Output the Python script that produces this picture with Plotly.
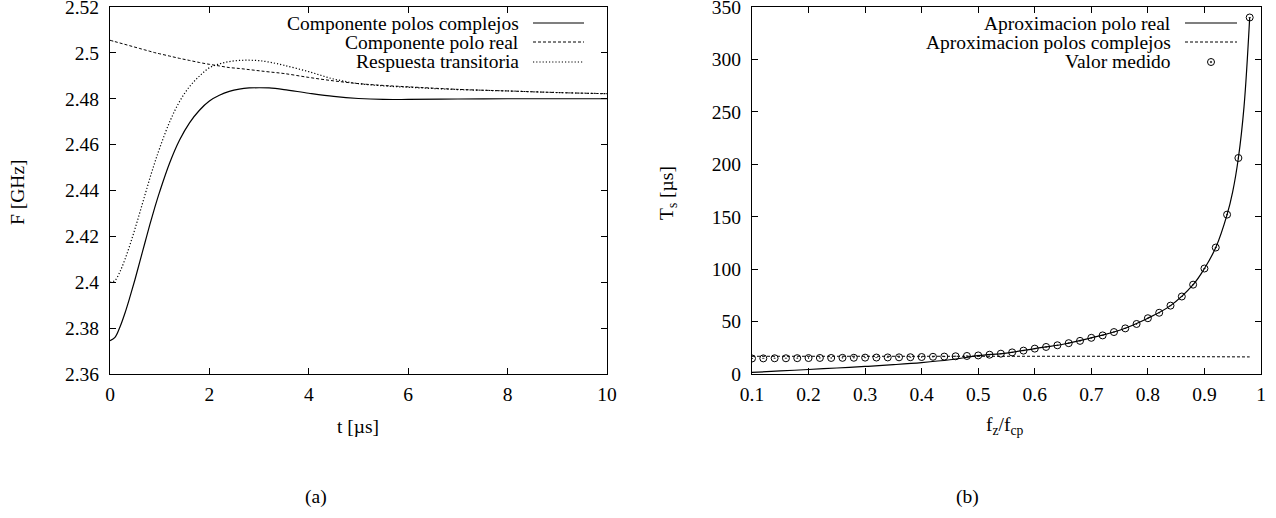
import plotly.graph_objects as go

# ---------------- data: panel (a) ----------------
t_us = [0, 0.1, 0.2, 0.3, 0.4, 0.5, 0.6, 0.7, 0.8, 0.9, 1.0, 1.2, 1.4, 1.6, 1.8, 2.0,
        2.2, 2.4, 2.6, 2.8, 3.0, 3.2, 3.5, 4.0, 4.5, 5.0, 5.5, 6.0, 7.0, 8.0, 9.0, 10.0]
f_complejos = [2.3745, 2.3760, 2.3805, 2.3865, 2.3935, 2.4010, 2.4090, 2.4170, 2.4250, 2.4325,
               2.4395, 2.4520, 2.4620, 2.4695, 2.4750, 2.4790, 2.4815, 2.4832, 2.4842, 2.4847,
               2.4848, 2.4847, 2.4840, 2.4824, 2.4810, 2.4801, 2.4797, 2.4797, 2.4799, 2.4800,
               2.4800, 2.4800]
f_real = [2.5055, 2.5049, 2.5043, 2.5037, 2.5031, 2.5025, 2.5019, 2.5013, 2.5007, 2.5001,
          2.4996, 2.4986, 2.4976, 2.4967, 2.4958, 2.4950, 2.4943, 2.4936, 2.4932, 2.4927,
          2.4922, 2.4917, 2.4910, 2.4893, 2.4878, 2.4866, 2.4858, 2.4852, 2.4841, 2.4834,
          2.4827, 2.4822]
f_transitoria = [2.4000, 2.4008, 2.4046, 2.4099, 2.4162, 2.4231, 2.4304, 2.4378, 2.4452, 2.4521,
                 2.4585, 2.4699, 2.4788, 2.4853, 2.4899, 2.4935, 2.4952, 2.4962, 2.4967, 2.4968,
                 2.4966, 2.4960, 2.4946, 2.4918, 2.4886, 2.4866, 2.4856, 2.4850, 2.4840, 2.4834,
                 2.4827, 2.4822]
ya_ticks = [2.36, 2.38, 2.40, 2.42, 2.44, 2.46, 2.48, 2.50, 2.52]
ya_ticktext = ["2.36", "2.38", "2.4", "2.42", "2.44", "2.46", "2.48", "2.5", "2.52"]
xa_ticks = [0, 2, 4, 6, 8, 10]

# ---------------- data: panel (b) ----------------
fz_real = [0.10, 0.15, 0.20, 0.25, 0.30, 0.35, 0.40, 0.45, 0.50, 0.55, 0.60, 0.65, 0.70,
           0.75, 0.80, 0.84, 0.88, 0.90, 0.92, 0.94, 0.95, 0.96, 0.97, 0.98]
ts_real = [1.5, 2.9, 4.3, 5.7, 7.2, 8.9, 10.9, 13.6, 17.5, 20.0, 24.2, 28.4, 34.5,
           41.7, 53.2, 65.2, 85.2, 100.6, 120.6, 152.0, 174.0, 206.0, 255.0, 340.0]
fz_cp = [0.10, 0.20, 0.30, 0.40, 0.50, 0.60, 0.70, 0.80, 0.90, 0.98]
ts_cp = [16.9, 17.0, 17.1, 17.2, 17.2, 17.1, 16.9, 16.7, 16.5, 16.3]
fz_meas = [0.10, 0.12, 0.14, 0.16, 0.18, 0.20, 0.22, 0.24, 0.26, 0.28, 0.30, 0.32, 0.34,
           0.36, 0.38, 0.40, 0.42, 0.44, 0.46, 0.48, 0.50, 0.52, 0.54, 0.56, 0.58, 0.60,
           0.62, 0.64, 0.66, 0.68, 0.70, 0.72, 0.74, 0.76, 0.78, 0.80, 0.82, 0.84, 0.86,
           0.88, 0.90, 0.92, 0.94, 0.96, 0.98]
ts_meas = [14.8, 14.9, 15.0, 15.0, 15.1, 15.2, 15.3, 15.3, 15.4, 15.5, 15.6, 15.7, 15.8,
           15.9, 16.0, 16.2, 16.4, 16.6, 16.9, 17.2, 17.7, 18.4, 19.4, 20.6, 22.3, 24.2,
           25.8, 27.4, 29.4, 31.6, 34.5, 36.8, 40.0, 43.5, 47.7, 53.2, 58.4, 65.2, 73.9,
           85.2, 100.6, 120.6, 152.0, 206.0, 340.0]
xb_ticks = [0.1, 0.2, 0.3, 0.4, 0.5, 0.6, 0.7, 0.8, 0.9, 1.0]
xb_ticktext = ["0.1", "0.2", "0.3", "0.4", "0.5", "0.6", "0.7", "0.8", "0.9", "1"]
yb_ticks = [0, 50, 100, 150, 200, 250, 300, 350]

legend_a = ["Componente polos complejos", "Componente polo real", "Respuesta transitoria"]
legend_b = ["Aproximacion polo real", "Aproximacion polos complejos", "Valor medido"]

# ---------------- style ----------------
W, H = 1276, 518
FONT = "Liberation Serif"
FS = 19.5
DASH = "3px,2px"
DOT = "1.2px,2px"


def px(x):
    return x / W


def py(y):
    return 1 - y / H


fig = go.Figure()

fig.add_trace(go.Scatter(x=t_us, y=f_complejos, mode="lines", name=legend_a[0],
                         line=dict(color="black", width=1.2, shape="spline"),
                         xaxis="x", yaxis="y"))
fig.add_trace(go.Scatter(x=t_us, y=f_real, mode="lines", name=legend_a[1],
                         line=dict(color="black", width=1, dash=DASH, shape="spline"),
                         xaxis="x", yaxis="y"))
fig.add_trace(go.Scatter(x=t_us, y=f_transitoria, mode="lines", name=legend_a[2],
                         line=dict(color="black", width=1.2, dash=DOT, shape="spline"),
                         xaxis="x", yaxis="y"))

fig.add_trace(go.Scatter(x=fz_real, y=ts_real, mode="lines", name=legend_b[0],
                         line=dict(color="black", width=1.2, shape="spline"),
                         xaxis="x2", yaxis="y2"))
fig.add_trace(go.Scatter(x=fz_cp, y=ts_cp, mode="lines", name=legend_b[1],
                         line=dict(color="black", width=1, dash=DASH),
                         xaxis="x2", yaxis="y2"))
fig.add_trace(go.Scatter(x=fz_meas, y=ts_meas, mode="markers", name=legend_b[2],
                         marker=dict(symbol="circle-open-dot", size=7, color="black",
                                     line=dict(width=1, color="black")),
                         xaxis="x2", yaxis="y2"))

axis_common = dict(showline=True, linecolor="black", linewidth=1, mirror="allticks",
                   ticks="inside", ticklen=6, tickwidth=1, tickcolor="black",
                   showgrid=False, zeroline=False, automargin=False,
                   ticklabeloverflow="allow",
                   tickfont=dict(family=FONT, size=FS, color="black"))

fig.update_layout(
    width=W, height=H,
    margin=dict(l=0, r=0, t=0, b=0),
    paper_bgcolor="white", plot_bgcolor="white",
    showlegend=False,
    font=dict(family=FONT, size=FS, color="black"),
    xaxis=dict(domain=[px(110), px(607)], range=[0, 10], tickvals=xa_ticks,
               anchor="y", ticklabelstandoff=3, **axis_common),
    yaxis=dict(domain=[py(374), py(7)], range=[2.36, 2.52], tickvals=ya_ticks,
               ticktext=ya_ticktext, anchor="x", ticklabelstandoff=6, **axis_common),
    xaxis2=dict(domain=[px(752), px(1261)], range=[0.1, 1.0], tickvals=xb_ticks,
                ticktext=xb_ticktext, anchor="y2", ticklabelstandoff=3, **axis_common),
    yaxis2=dict(domain=[py(374), py(7)], range=[0, 350], tickvals=yb_ticks,
                anchor="x2", ticklabelstandoff=6, **axis_common),
)

annotations = []
shapes = []


def text(x, y, s, anchor="center", angle=0):
    annotations.append(dict(x=px(x), y=py(y), xref="paper", yref="paper", text=s,
                            showarrow=False, xanchor=anchor, yanchor="middle",
                            textangle=angle,
                            font=dict(family=FONT, size=FS, color="black")))


# axis titles and captions
text(18, 192, "F [GHz]", angle=-90)
text(358, 426, "t [µs]")
text(668, 193, "T<sub>s</sub> [µs]", angle=-90)
text(1005, 426, "f<sub>z</sub>/f<sub>cp</sub>")
text(316, 497, "(a)")
text(967, 497, "(b)")

# legend (a): gnuplot style, text right-aligned, sample to the right
rows = [23, 42, 62]
styles_a = [dict(width=1.2), dict(width=1, dash=DASH), dict(width=1.2, dash=DOT)]
for name, yy, st in zip(legend_a, rows, styles_a):
    text(521, yy, name, anchor="right")
    shapes.append(dict(type="line", xref="paper", yref="paper", x0=px(533), x1=px(584),
                       y0=py(yy), y1=py(yy), line=dict(color="black", **st)))

# legend (b)
styles_b = [dict(width=1.2), dict(width=1, dash=DASH)]
for name, yy, st in zip(legend_b[:2], rows[:2], styles_b):
    text(1173, yy, name, anchor="right")
    shapes.append(dict(type="line", xref="paper", yref="paper", x0=px(1185), x1=px(1237),
                       y0=py(yy), y1=py(yy), line=dict(color="black", **st)))
text(1173, rows[2], legend_b[2], anchor="right")
shapes.append(dict(type="circle", xref="paper", yref="paper", xsizemode="pixel",
                   ysizemode="pixel", xanchor=px(1211), yanchor=py(rows[2]),
                   x0=-3.5, x1=3.5, y0=-3.5, y1=3.5, line=dict(color="black", width=1)))
shapes.append(dict(type="circle", xref="paper", yref="paper", xsizemode="pixel",
                   ysizemode="pixel", xanchor=px(1211), yanchor=py(rows[2]),
                   x0=-0.8, x1=0.8, y0=-0.8, y1=0.8, fillcolor="black",
                   line=dict(color="black", width=0.5)))

fig.update_layout(annotations=annotations, shapes=shapes)

fig.write_html("out.html", config={"staticPlot": True, "displayModeBar": False},
               post_script="document.body.style.margin='0';document.body.style.overflow='hidden';")
